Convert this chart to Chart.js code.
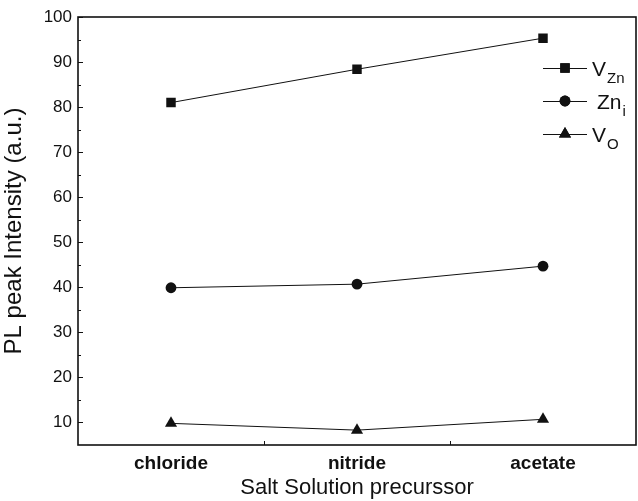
<!DOCTYPE html>
<html>
<head>
<meta charset="utf-8">
<script src="https://cdn.jsdelivr.net/npm/chart.js@4.4.1/dist/chart.umd.min.js"></script>
<style>
  html, body { margin: 0; padding: 0; background: #fff; }
  #wrap { width: 638px; height: 501px; }
</style>
</head>
<body>
<div id="wrap"><canvas id="plChart" width="638" height="501"></canvas></div>
<script>
const categorias = ['chloride', 'nitride', 'acetate'];
const vZn = [81.0, 88.4, 95.3];
const znI = [39.9, 40.7, 44.7];
const vO = [9.8, 8.3, 10.7];
const yTicks = [10, 20, 30, 40, 50, 60, 70, 80, 90, 100];
const yMinorTicks = [15, 25, 35, 45, 55, 65, 75, 85, 95];
const legendas = [
  { base: 'V', sub: 'Zn', marker: 'rect' },
  { base: 'Zn', sub: 'i', marker: 'circle' },
  { base: 'V', sub: 'O', marker: 'triangle' }
];

const FONTE = '"Liberation Sans", Arial, sans-serif';
const tamanhos = { rect: 6.7, circle: 5.4, triangle: 7 };

// moldura, ticks para dentro e legenda com subscritos
const molduraPlugin = {
  id: 'moldura',
  afterDraw(chart) {
    const ctx = chart.ctx;
    const a = chart.chartArea;
    const x = chart.scales.x;
    const y = chart.scales.y;
    ctx.save();
    ctx.strokeStyle = '#111';
    ctx.lineWidth = 1.6;
    ctx.strokeRect(a.left, a.top, a.right - a.left, a.bottom - a.top);

    ctx.lineWidth = 1;
    ctx.beginPath();
    yTicks.forEach(v => {
      const py = Math.round(y.getPixelForValue(v)) + 0.5;
      ctx.moveTo(a.left, py); ctx.lineTo(a.left + 5, py);
    });
    yMinorTicks.forEach(v => {
      const py = Math.round(y.getPixelForValue(v)) + 0.5;
      ctx.moveTo(a.left, py); ctx.lineTo(a.left + 3, py);
    });
    for (let i = 0; i < categorias.length - 1; i++) {
      const px = Math.round((x.getPixelForValue(i) + x.getPixelForValue(i + 1)) / 2) + 0.5;
      ctx.moveTo(px, a.bottom); ctx.lineTo(px, a.bottom - 4);
    }
    ctx.stroke();

    // legenda
    const lx0 = 543, lx1 = 587, lxm = 565;
    const linhas = [68, 101, 134];
    legendas.forEach((item, i) => {
      const ly = linhas[i];
      ctx.strokeStyle = '#111';
      ctx.lineWidth = 1;
      ctx.beginPath();
      ctx.moveTo(lx0, ly + 0.5); ctx.lineTo(lx1, ly + 0.5);
      ctx.stroke();
      ctx.fillStyle = '#111';
      Chart.helpers.drawPoint(ctx, { pointStyle: item.marker, radius: tamanhos[item.marker], rotation: 0, borderWidth: 0 }, lxm, ly);
      ctx.fill();
      ctx.fillStyle = '#111';
      ctx.textBaseline = 'alphabetic';
      ctx.textAlign = 'left';
      ctx.font = '21px ' + FONTE;
      const tx = item.base === 'Zn' ? 597 : 592;
      ctx.fillText(item.base, tx, ly + 8);
      const w = ctx.measureText(item.base).width;
      ctx.font = '15px ' + FONTE;
      ctx.fillText(item.sub, tx + w + 1, ly + 15);
    });
    ctx.restore();
  }
};

function serie(label, data, estilo) {
  return {
    label: label,
    data: data,
    borderColor: '#111',
    backgroundColor: '#111',
    borderWidth: 1,
    pointStyle: estilo,
    pointRadius: tamanhos[estilo],
    pointHoverRadius: tamanhos[estilo],
    pointBorderWidth: 0,
    tension: 0
  };
}

new Chart(document.getElementById('plChart').getContext('2d'), {
  type: 'line',
  data: {
    labels: categorias,
    datasets: [
      serie('VZn', vZn, 'rect'),
      serie('Zni', znI, 'circle'),
      serie('VO', vO, 'triangle')
    ]
  },
  options: {
    responsive: false,
    animation: false,
    events: [],
    layout: { autoPadding: false, padding: { top: 17, right: 2, left: 0, bottom: 0 } },
    plugins: { legend: { display: false }, tooltip: { enabled: false } },
    scales: {
      x: {
        type: 'category',
        offset: true,
        grid: { display: false, drawTicks: false },
        border: { display: false },
        ticks: { color: '#111', padding: 7, font: { family: FONTE, size: 19, weight: 'bold' } },
        title: { display: true, text: 'Salt Solution precurssor', color: '#111', padding: { top: 2, bottom: 0 }, font: { family: FONTE, size: 22 } },
        afterFit(scale) { scale.height = 56; }
      },
      y: {
        min: 5,
        max: 100,
        grid: { display: false, drawTicks: false },
        border: { display: false },
        afterBuildTicks(scale) { scale.ticks = yTicks.map(v => ({ value: v })); },
        ticks: { color: '#111', padding: 6, font: { family: FONTE, size: 17 } },
        title: { display: true, text: 'PL peak Intensity (a.u.)', color: '#111', padding: { top: 0, bottom: 2 }, font: { family: FONTE, size: 24 } },
        afterFit(scale) { scale.width = 78; }
      }
    }
  },
  plugins: [molduraPlugin]
});
</script>
</body>
</html>
